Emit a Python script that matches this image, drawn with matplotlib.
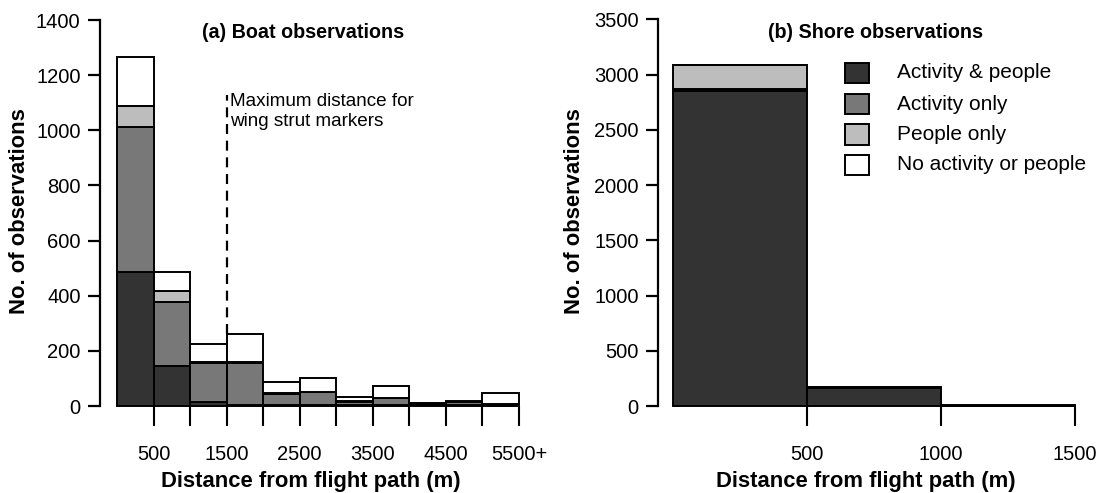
import matplotlib
matplotlib.use("Agg")
import matplotlib.pyplot as plt
from matplotlib.patches import Rectangle
import numpy as np

plt.rcParams['font.family'] = ['Liberation Sans', 'DejaVu Sans']

# ---------------- data ----------------
categories = ["Activity & people", "Activity only", "People only", "No activity or people"]
colors = ["#333333", "#787878", "#bdbdbd", "#ffffff"]

# (a) Boat observations: bins of 500 m
boat_bin_left = [0, 500, 1000, 1500, 2000, 2500, 3000, 3500, 4000, 4500, 5000]
boat_act_people = [487, 145, 15, 2, 2, 3, 2, 2, 2, 3, 1]
boat_act_only = [526, 233, 140, 153, 42, 47, 12, 26, 5, 10, 5]
boat_people_only = [75, 38, 4, 4, 2, 1, 3, 0, 1, 1, 1]
boat_none = [179, 71, 66, 102, 40, 49, 14, 46, 2, 3, 39]
boat_ticks = [500, 1000, 1500, 2000, 2500, 3000, 3500, 4000, 4500, 5000, 5500]
boat_tick_labels = ["500", "", "1500", "", "2500", "", "3500", "", "4500", "", "5500+"]
boat_yticks = [0, 200, 400, 600, 800, 1000, 1200, 1400]
strut_max = 1500
strut_line_range = [261, 1128]

# (b) Shore observations
shore_bin_left = [0, 500, 1000]
shore_act_people = [2850, 160, 2]
shore_act_only = [15, 5, 1]
shore_people_only = [220, 5, 1]
shore_none = [3, 5, 2]
shore_ticks = [500, 1000, 1500]
shore_tick_labels = ["500", "1000", "1500"]
shore_yticks = [0, 500, 1000, 1500, 2000, 2500, 3000, 3500]
bin_width = 500

# ---------------- figure ----------------
W, H = 1101, 493
fig = plt.figure(figsize=(W / 100, H / 100), dpi=100)

def px(x, y):
    return x / W, 1 - y / H

def axes_px(l, r, t, b):
    return fig.add_axes([l / W, 1 - b / H, (r - l) / W, (b - t) / H])

ax_a = axes_px(100, 519, 20, 406)
ax_b = axes_px(658, 1075, 19.3, 406)

def draw_stack(ax, lefts, series):
    bottom = np.zeros(len(lefts))
    for vals, c in zip(series, colors):
        ax.bar(lefts, vals, width=bin_width, bottom=bottom, align='edge',
               color=c, edgecolor='black', linewidth=1.4, clip_on=False, zorder=3)
        bottom = bottom + np.array(vals)

draw_stack(ax_a, boat_bin_left, [boat_act_people, boat_act_only, boat_people_only, boat_none])
draw_stack(ax_b, shore_bin_left, [shore_act_people, shore_act_only, shore_people_only, shore_none])

def style(ax, xlim, ylim, xticks, xlabels, yticks):
    ax.set_xlim(*xlim)
    ax.set_ylim(*ylim)
    for s in ['top', 'right', 'bottom']:
        ax.spines[s].set_visible(False)
    ax.spines['left'].set_linewidth(1.6)
    ax.set_xticks(xticks)
    ax.set_xticklabels(xlabels)
    ax.set_yticks(yticks)
    ax.tick_params(axis='x', length=14.5, width=1.5, pad=13.5, labelsize=14.5, direction='out')
    ax.tick_params(axis='y', length=9, width=1.6, pad=5, labelsize=14.5, direction='out')
    ax.patch.set_alpha(0)

style(ax_a, (-232.6, 5500), (0, 1400), boat_ticks, boat_tick_labels, boat_yticks)
style(ax_b, (-56, 1500), (0, 3500), shore_ticks, shore_tick_labels, shore_yticks)

# dashed line for wing strut markers
ax_a.plot([strut_max, strut_max], strut_line_range, color='black', lw=1.6,
          dashes=(4.5, 3), zorder=4, clip_on=False)
ax_a.text(strut_max + 45, 1068, "Maximum distance for\nwing strut markers",
          fontsize=13.6, va='center', ha='left', linespacing=1.2)

# titles
fig.text(*px(303, 33), "(a) Boat observations", fontsize=14.2, fontweight='bold',
         ha='center', va='center')
fig.text(*px(875, 33), "(b) Shore observations", fontsize=14.2, fontweight='bold',
         ha='center', va='center')

# axis labels
for xc in (311, 866):
    fig.text(*px(xc, 482), "Distance from flight path (m)", fontsize=15.8,
             fontweight='bold', ha='center', va='center')
for xc in (19.5, 575):
    fig.text(*px(xc, 211), "No. of observations", fontsize=15.8, fontweight='bold',
             ha='center', va='center', rotation=90)

# legend (panel b)
row_y = [73, 104, 134.5, 165]
for yc, c, lab in zip(row_y, colors, categories):
    x0, y0 = px(845, yc + 10)
    fig.patches.append(Rectangle((x0, y0), 24 / W, 20 / H, transform=fig.transFigure,
                                 facecolor=c, edgecolor='black', linewidth=1.4))
    fig.text(*px(897, yc), lab, fontsize=15, ha='left', va='center')

fig.savefig("out.png", dpi=100)
